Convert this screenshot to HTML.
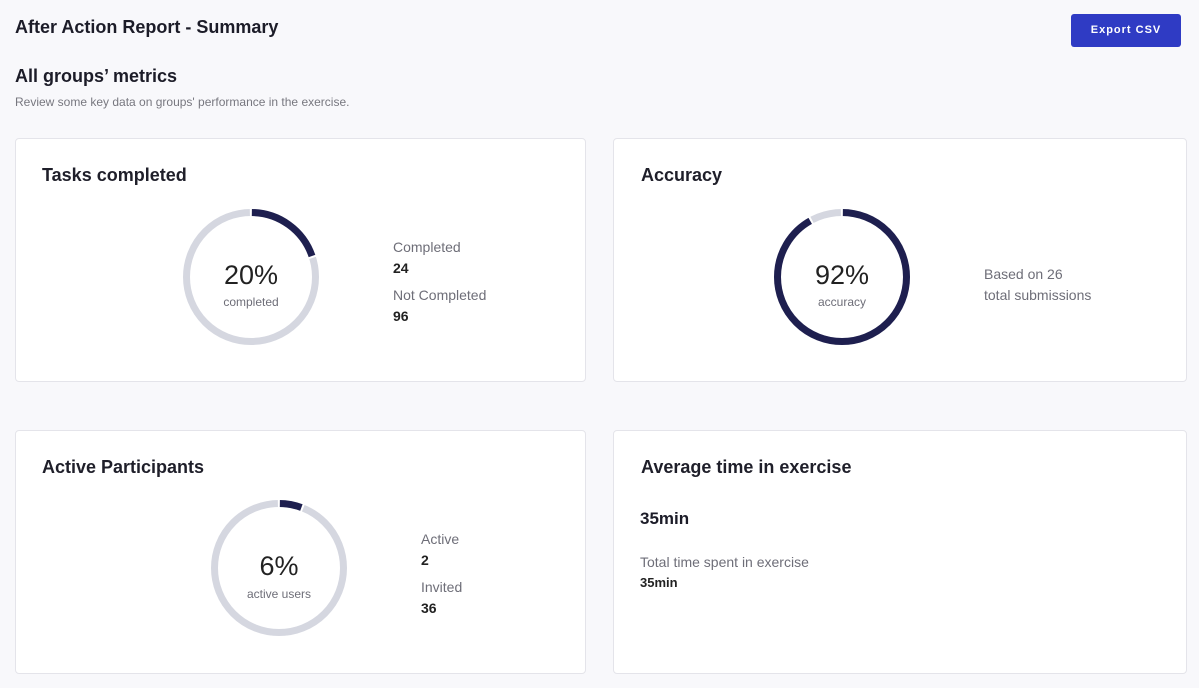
<!DOCTYPE html>
<html><head><style>
*{margin:0;padding:0;box-sizing:border-box}
body{width:1199px;height:688px;background:#f8f8fb;font-family:"Liberation Sans",sans-serif;color:#1c1c28;position:relative;overflow:hidden}
.a{position:absolute;white-space:nowrap}
.card{position:absolute;background:#fff;border:1px solid #e4e4ea;border-radius:4px}
.h{font-size:18px;font-weight:bold;color:#1f1f2a}
.lbl{font-size:14px;color:#6e6e78}
.val{font-size:14px;font-weight:bold;color:#222}
.big{font-size:27px;color:#222;text-align:center;width:140px}
.sm{font-size:12px;color:#6e6e78;text-align:center;width:140px}
</style></head><body>
<div class="a" style="left:15px;top:17px;font-size:18px;font-weight:bold">After Action Report - Summary</div>
<div class="a" style="left:1071px;top:14px;width:110px;height:33px;background:#2f3bc4;border-radius:3px;color:#fff;font-size:11px;font-weight:bold;letter-spacing:1px;text-align:center;line-height:33px">Export CSV</div>
<div class="a" style="left:15px;top:66px;font-size:18px;font-weight:bold">All groups’ metrics</div>
<div class="a" style="left:15px;top:95px;font-size:12px;color:#77777f">Review some key data on groups' performance in the exercise.</div>

<div class="card" style="left:15px;top:138px;width:571px;height:244px"></div>
<div class="card" style="left:613px;top:138px;width:574px;height:244px"></div>
<div class="card" style="left:15px;top:430px;width:571px;height:244px"></div>
<div class="card" style="left:613px;top:430px;width:574px;height:244px"></div>

<div class="a h" style="left:42px;top:165px">Tasks completed</div>
<div class="a h" style="left:641px;top:165px">Accuracy</div>
<div class="a h" style="left:42px;top:457px">Active Participants</div>
<div class="a h" style="left:641px;top:457px">Average time in exercise</div>

<svg class="a" style="left:0;top:0" width="1199" height="688">
<g fill="none" stroke-width="7">
<circle cx="251" cy="277" r="64.5" stroke="#d5d7e0"/>
<circle cx="251" cy="277" r="64.5" stroke="#1e1f4f" stroke-dasharray="81 400" transform="rotate(-90 251 277)"/>
<circle cx="251" cy="277" r="64.5" stroke="#fff" stroke-width="9" stroke-dasharray="2 79 2 400" transform="rotate(-91 251 277)"/>
<circle cx="842" cy="277" r="64.5" stroke="#d5d7e0"/>
<circle cx="842" cy="277" r="64.5" stroke="#1e1f4f" stroke-dasharray="373 400" transform="rotate(-90 842 277)"/>
<circle cx="842" cy="277" r="64.5" stroke="#fff" stroke-width="9" stroke-dasharray="2 371 2 400" transform="rotate(-91 842 277)"/>
<circle cx="279" cy="568" r="64.5" stroke="#d5d7e0"/>
<circle cx="279" cy="568" r="64.5" stroke="#1e1f4f" stroke-dasharray="24 400" transform="rotate(-90 279 568)"/>
<circle cx="279" cy="568" r="64.5" stroke="#fff" stroke-width="9" stroke-dasharray="2 22 2 400" transform="rotate(-91 279 568)"/>
</g></svg>

<div class="a big" style="left:181px;top:260px">20%</div>
<div class="a sm" style="left:181px;top:295px">completed</div>
<div class="a big" style="left:772px;top:260px">92%</div>
<div class="a sm" style="left:772px;top:295px">accuracy</div>
<div class="a big" style="left:209px;top:551px">6%</div>
<div class="a sm" style="left:209px;top:587px">active users</div>

<div class="a lbl" style="left:393px;top:239px">Completed</div>
<div class="a val" style="left:393px;top:260px">24</div>
<div class="a lbl" style="left:393px;top:287px">Not Completed</div>
<div class="a val" style="left:393px;top:308px">96</div>

<div class="a lbl" style="left:984px;top:266px">Based on 26</div>
<div class="a lbl" style="left:984px;top:287px">total submissions</div>

<div class="a lbl" style="left:421px;top:531px">Active</div>
<div class="a val" style="left:421px;top:552px">2</div>
<div class="a lbl" style="left:421px;top:579px">Invited</div>
<div class="a val" style="left:421px;top:600px">36</div>

<div class="a" style="left:640px;top:509px;font-size:17px;font-weight:bold">35min</div>
<div class="a lbl" style="left:640px;top:554px">Total time spent in exercise</div>
<div class="a val" style="left:640px;top:575px;font-size:13px">35min</div>
</body></html>
